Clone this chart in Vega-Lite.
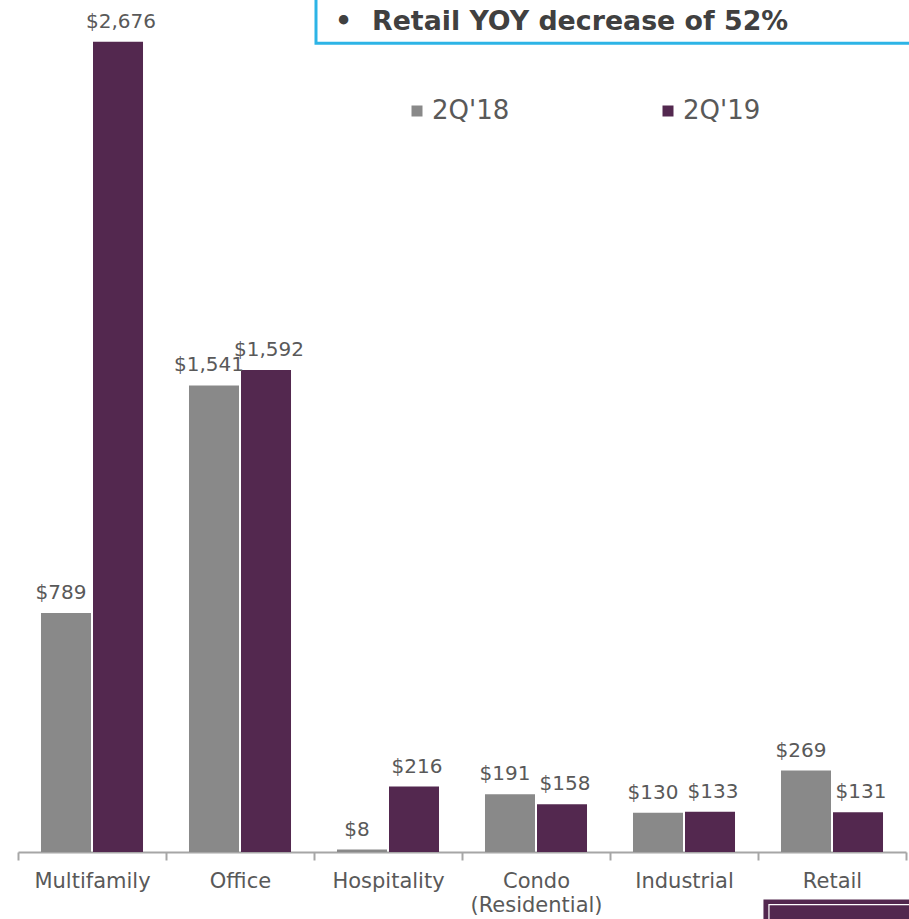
{
  "$schema": "https://vega.github.io/schema/vega-lite/v6.json",
  "width": 888,
  "height": 852,
  "autosize": {"type": "none"},
  "padding": {"left": 18, "top": 0, "right": 3, "bottom": 67},
  "config": {"view": {"stroke": null}, "font": "DejaVu Sans"},
  "datasets": {
    "sales": [
      {"category": "Multifamily", "series": "2Q'18", "value": 789},
      {"category": "Multifamily", "series": "2Q'19", "value": 2676},
      {"category": "Office", "series": "2Q'18", "value": 1541},
      {"category": "Office", "series": "2Q'19", "value": 1592},
      {"category": "Hospitality", "series": "2Q'18", "value": 8},
      {"category": "Hospitality", "series": "2Q'19", "value": 216},
      {"category": "Condo (Residential)", "series": "2Q'18", "value": 191},
      {"category": "Condo (Residential)", "series": "2Q'19", "value": 158},
      {"category": "Industrial", "series": "2Q'18", "value": 130},
      {"category": "Industrial", "series": "2Q'19", "value": 133},
      {"category": "Retail", "series": "2Q'18", "value": 269},
      {"category": "Retail", "series": "2Q'19", "value": 131}
    ],
    "boxes": [
      {"box": "note", "x1": 2.0135, "x2": 6.4, "y1": 2671, "y2": 3200},
      {"box": "footer", "x1": 5.047, "x2": 6.4, "y1": -162, "y2": -320}
    ],
    "footerInner": [
      {"x1": 5.074, "x2": 6.4, "y1": -174, "y2": -320}
    ],
    "notes": [
      {"kind": "bullet", "text": "•", "x": 2.142, "y": 2716},
      {"kind": "note", "text": "Retail YOY decrease of 52%", "x": 2.392, "y": 2716}
    ]
  },
  "layer": [
    {
      "data": {"name": "sales"},
      "encoding": {
        "x": {
          "field": "category", "type": "nominal", "sort": null,
          "scale": {"paddingInner": 0, "paddingOuter": 0},
          "axis": {
            "title": null, "labelAngle": 0, "labelFontSize": 21, "labelColor": "#595959",
            "labelPadding": 10, "labelLineHeight": 24,
            "domainColor": "#A6A6A6", "domainWidth": 2,
            "tickColor": "#A6A6A6", "tickWidth": 2, "tickSize": 8, "tickBand": "extent",
            "labelExpr": "datum.label == 'Condo (Residential)' ? ['Condo', '(Residential)'] : datum.label"
          }
        },
        "xOffset": {
          "field": "series", "type": "nominal",
          "scale": {"paddingInner": 0.0385, "paddingOuter": 0.442}
        },
        "y": {
          "field": "value", "type": "quantitative",
          "scale": {"domain": [0, 2814], "nice": false, "zero": true},
          "axis": null
        }
      },
      "layer": [
        {
          "mark": {"type": "bar"},
          "encoding": {
            "color": {
              "field": "series", "type": "nominal",
              "scale": {"domain": ["2Q'18", "2Q'19"], "range": ["#898989", "#53284F"]},
              "legend": {
                "orient": "none", "legendX": 386, "legendY": 98, "direction": "horizontal",
                "title": null, "symbolType": "square", "symbolSize": 121, "symbolStrokeWidth": 0,
                "labelFontSize": 26, "labelColor": "#595959", "labelOffset": 2,
                "columnPadding": 145, "padding": 0
              }
            }
          }
        },
        {
          "transform": [{"filter": "datum.series == \"2Q'18\""}],
          "mark": {"type": "text", "fontSize": 20, "color": "#595959", "baseline": "alphabetic", "dy": -14, "dx": -5},
          "encoding": {
            "text": {"field": "value", "type": "quantitative", "format": "$,.0f"}
          }
        },
        {
          "transform": [{"filter": "datum.series == \"2Q'19\""}],
          "mark": {"type": "text", "fontSize": 20, "color": "#595959", "baseline": "alphabetic", "dy": -14, "dx": 3},
          "encoding": {
            "text": {"field": "value", "type": "quantitative", "format": "$,.0f"}
          }
        }
      ]
    },
    {
      "layer": [
        {
          "data": {"name": "boxes"},
          "mark": {"type": "rect", "strokeWidth": 3},
          "encoding": {
            "x": {"field": "x1", "type": "quantitative", "scale": {"domain": [0, 6], "nice": false, "zero": false}, "axis": null},
            "x2": {"field": "x2"},
            "y": {"field": "y1", "type": "quantitative", "scale": {"domain": [0, 2814], "nice": false}},
            "y2": {"field": "y2"},
            "fill": {
              "field": "box", "type": "nominal",
              "scale": {"domain": ["note", "footer"], "range": ["#FFFFFF", "#53284F"]},
              "legend": null
            },
            "stroke": {
              "field": "box", "type": "nominal",
              "scale": {"domain": ["note", "footer"], "range": ["#2DB4E6", "#53284F"]},
              "legend": null
            }
          }
        },
        {
          "data": {"name": "footerInner"},
          "mark": {"type": "rect", "fill": null, "stroke": "#FFFFFF", "strokeWidth": 1.2},
          "encoding": {
            "x": {"field": "x1", "type": "quantitative", "scale": {"domain": [0, 6], "nice": false, "zero": false}, "axis": null},
            "x2": {"field": "x2"},
            "y": {"field": "y1", "type": "quantitative", "scale": {"domain": [0, 2814], "nice": false}},
            "y2": {"field": "y2"}
          }
        },
        {
          "data": {"name": "notes"},
          "mark": {"type": "text", "font": "DejaVu Sans", "fontWeight": "bold", "fontSize": 26.8, "color": "#404040", "align": "left", "baseline": "alphabetic"},
          "encoding": {
            "x": {"field": "x", "type": "quantitative", "scale": {"domain": [0, 6], "nice": false, "zero": false}, "axis": null},
            "y": {"field": "y", "type": "quantitative", "scale": {"domain": [0, 2814], "nice": false}},
            "text": {"field": "text", "type": "nominal"}
          }
        }
      ]
    }
  ],
  "resolve": {"scale": {"x": "independent", "fill": "independent", "stroke": "independent"}}
}
